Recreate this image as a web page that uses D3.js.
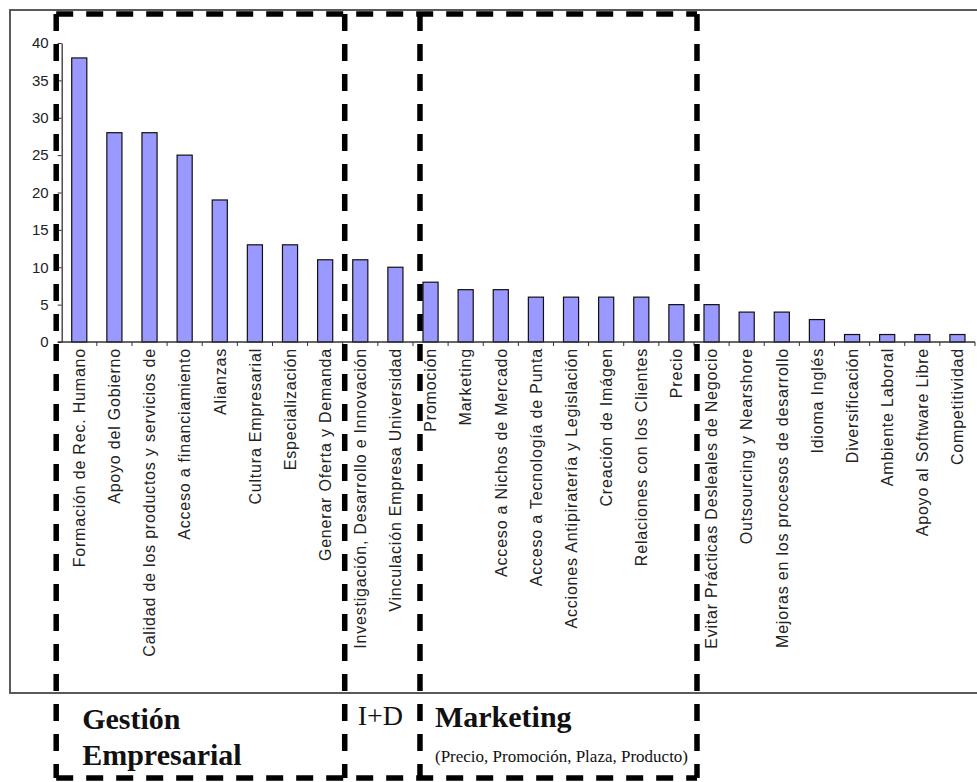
<!DOCTYPE html>
<html>
<head>
<meta charset="utf-8">
<script src="https://cdn.jsdelivr.net/npm/d3@7"></script>
<style>
  html, body { margin: 0; padding: 0; background: #fff; }
  svg { display: block; }
</style>
</head>
<body>
<svg id="chart" width="977" height="782"></svg>
<script>
// ---- data ----
const categories = [
  "Formación de Rec. Humano",
  "Apoyo del Gobierno",
  "Calidad de los productos y servicios de",
  "Acceso a financiamiento",
  "Alianzas",
  "Cultura Empresarial",
  "Especialización",
  "Generar Oferta y Demanda",
  "Investigación, Desarrollo e Innovación",
  "Vinculación Empresa Universidad",
  "Promoción",
  "Marketing",
  "Acceso a Nichos de Mercado",
  "Acceso a Tecnología de Punta",
  "Acciones Antipiratería y Legislación",
  "Creación de Imágen",
  "Relaciones con los Clientes",
  "Precio",
  "Evitar Prácticas Desleales de Negocio",
  "Outsourcing y Nearshore",
  "Mejoras en los procesos de desarrollo",
  "Idioma Inglés",
  "Diversificación",
  "Ambiente Laboral",
  "Apoyo al Software Libre",
  "Competitividad"
];
const values = [38, 28, 28, 25, 19, 13, 13, 11, 11, 10, 8, 7, 7, 6, 6, 6, 6, 5, 5, 4, 4, 3, 1, 1, 1, 1];
const yTicks = [0, 5, 10, 15, 20, 25, 30, 35, 40];
// groups: first and last category index (inclusive)
const groupNames = ["Gestión Empresarial", "I+D", "Marketing"];
const groupStart = [0, 8, 10];
const groupEnd = [7, 9, 17];

// ---- layout ----
const svg = d3.select("#chart");
const n = categories.length;

const x = d3.scaleBand()
  .domain(categories)
  .range([61.7, 975])
  .paddingInner(0.57)
  .paddingOuter(0.285);
const step = x.step();
const bw = x.bandwidth();
const gap = (step - bw) / 2;
const leftEdge = c => x(c) - gap;        // band boundary before category
const rightEdge = c => x(c) + bw + gap;  // band boundary after category

const y = d3.scaleLinear().domain([0, 40]).range([342, 43]);

// outer frame
svg.append("path")
  .attr("d", "M977,10 H10 V693 H977")
  .attr("fill", "none")
  .attr("stroke", "#5a5a5a")
  .attr("stroke-width", 2);

// bars
svg.append("g").selectAll("rect")
  .data(values)
  .join("rect")
  .attr("x", (d, i) => x(categories[i]))
  .attr("y", d => y(d))
  .attr("width", bw)
  .attr("height", d => y(0) - y(d))
  .attr("fill", "#9999ff")
  .attr("stroke", "#111")
  .attr("stroke-width", 1.2);

// y axis
const yAxis = svg.append("g")
  .attr("transform", `translate(${x.range()[0]},0)`)
  .call(d3.axisLeft(y).tickValues(yTicks).tickSize(4).tickPadding(9).tickSizeOuter(0));
yAxis.select(".domain").attr("stroke", "#333").attr("stroke-width", 1.3);
yAxis.selectAll(".tick line").attr("stroke", "#333");
yAxis.selectAll("text")
  .attr("font-family", "'Liberation Sans', Arial, sans-serif")
  .attr("font-size", 15)
  .attr("fill", "#222");

// x axis line and boundary ticks
svg.append("line")
  .attr("x1", x.range()[0] - 4).attr("x2", x.range()[1])
  .attr("y1", y(0)).attr("y2", y(0))
  .attr("stroke", "#333").attr("stroke-width", 1.5);
const boundaries = categories.map(c => leftEdge(c)).concat([rightEdge(categories[n - 1])]);
svg.append("g").selectAll("line")
  .data(boundaries.slice(1))
  .join("line")
  .attr("x1", d => d).attr("x2", d => d)
  .attr("y1", y(0)).attr("y2", y(0) + 4)
  .attr("stroke", "#333").attr("stroke-width", 1);

// category labels
svg.append("g").selectAll("text")
  .data(categories)
  .join("text")
  .attr("transform", d => `translate(${x(d) + bw / 2},${y(0) + 6}) rotate(-90)`)
  .attr("dy", "0.36em")
  .attr("text-anchor", "end")
  .attr("font-family", "'Liberation Sans', Arial, sans-serif")
  .attr("font-size", 16)
  .attr("letter-spacing", 0.8)
  .attr("fill", "#222")
  .text(d => d);

// dashed group boxes
const boxTop = 14, boxBottom = 778;
const edges = [
  leftEdge(categories[groupStart[0]]) - 5.5,
  rightEdge(categories[groupEnd[0]]) + 2,
  rightEdge(categories[groupEnd[1]]) + 7,
  rightEdge(categories[groupEnd[2]]) + 3
];
const dash = svg.append("g")
  .attr("stroke", "#000")
  .attr("stroke-width", 5.5)
  .attr("stroke-dasharray", "17,13")
  .attr("fill", "none");
dash.append("line").attr("x1", edges[0]).attr("x2", edges[3]).attr("y1", boxTop).attr("y2", boxTop);
dash.append("line").attr("x1", edges[0]).attr("x2", edges[3]).attr("y1", boxBottom).attr("y2", boxBottom);
edges.forEach(e => {
  dash.append("line").attr("x1", e).attr("x2", e).attr("y1", boxTop).attr("y2", boxBottom);
});

// group labels
const serif = "'Liberation Serif', 'Times New Roman', serif";
const gText = svg.append("g").attr("font-family", serif).attr("fill", "#111");
const gestionParts = groupNames[0].split(" ");
gText.append("text").attr("x", edges[0] + 26).attr("y", 729)
  .attr("font-size", 30).attr("font-weight", "bold").text(gestionParts[0]);
gText.append("text").attr("x", edges[0] + 26).attr("y", 765)
  .attr("font-size", 30).attr("font-weight", "bold").text(gestionParts[1]);
gText.append("text").attr("x", edges[1] + 13).attr("y", 725)
  .attr("font-size", 28).text(groupNames[1]);
gText.append("text").attr("x", edges[2] + 15).attr("y", 727)
  .attr("font-size", 30).attr("font-weight", "bold").text(groupNames[2]);
gText.append("text").attr("x", edges[2] + 15).attr("y", 762)
  .attr("font-size", 17).text("(Precio, Promoción, Plaza, Producto)");
</script>
</body>
</html>
